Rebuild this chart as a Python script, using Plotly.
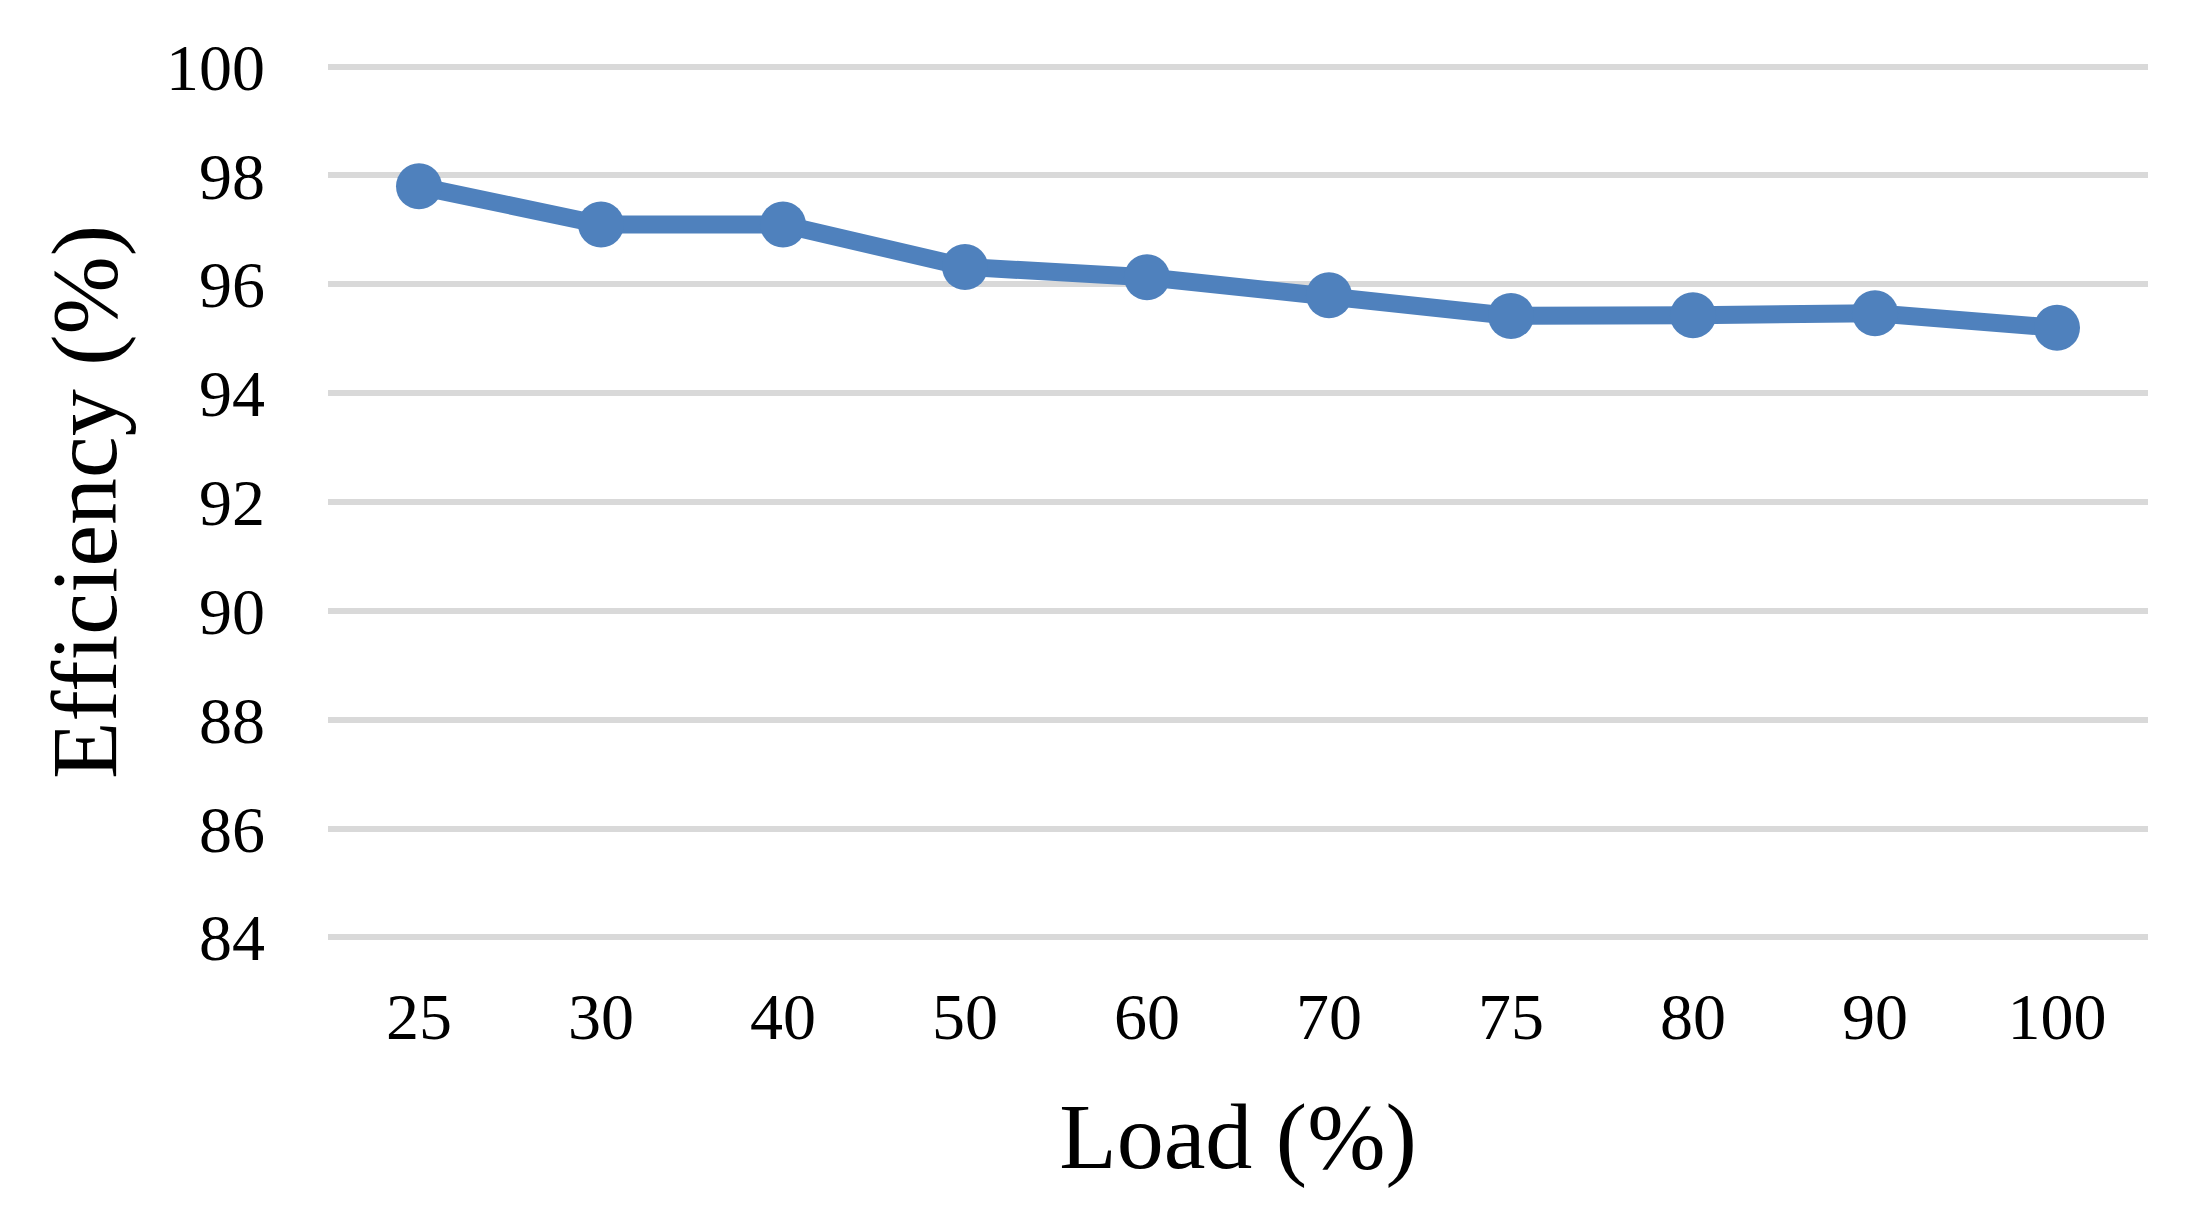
import plotly.graph_objects as go

loads = ["25", "30", "40", "50", "60", "70", "75", "80", "90", "100"]
efficiency = [97.8, 97.1, 97.1, 96.32, 96.13, 95.8, 95.42, 95.43, 95.47, 95.2]
y_ticks = [84, 86, 88, 90, 92, 94, 96, 98, 100]

FONT = "Liberation Serif, Times New Roman, serif"
BLUE = "#4F81BD"

fig = go.Figure(
    go.Scatter(
        x=loads,
        y=efficiency,
        mode="lines+markers",
        line=dict(color=BLUE, width=18),
        marker=dict(color=BLUE, size=46),
        showlegend=False,
    )
)

fig.update_layout(
    width=2182,
    height=1207,
    paper_bgcolor="white",
    plot_bgcolor="white",
    margin=dict(l=320, r=42, t=57, b=276),
    font=dict(family=FONT, color="black", size=66),
)

fig.update_xaxes(
    type="category",
    range=[-0.5, 9.5],
    showgrid=False,
    zeroline=False,
    showline=False,
    ticks="",
    tickfont=dict(family=FONT, size=66, color="black"),
    ticklabelstandoff=33,
    title=dict(text="Load (%)", font=dict(family=FONT, size=94, color="black"), standoff=50),
)

fig.update_yaxes(
    range=[83.97, 100.03],
    tickvals=y_ticks,
    showgrid=True,
    gridcolor="#D9D9D9",
    gridwidth=6,
    zeroline=False,
    showline=False,
    ticks="",
    tickfont=dict(family=FONT, size=66, color="black"),
    ticklabelstandoff=62,
    title=dict(text="Efficiency (%)", font=dict(family=FONT, size=94, color="black"), standoff=18),
)

fig.write_html("out.html")
